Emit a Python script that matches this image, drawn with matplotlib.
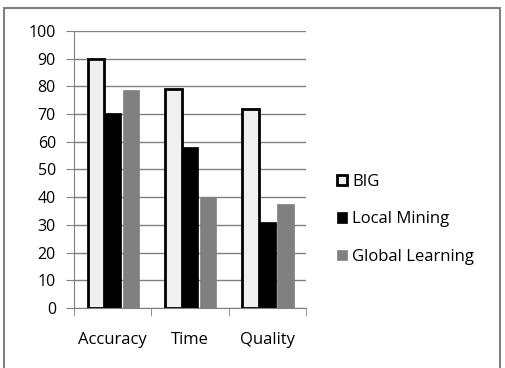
import matplotlib
matplotlib.use("Agg")
import matplotlib.pyplot as plt
import numpy as np
from matplotlib.patches import Rectangle

plt.rcParams['font.family'] = ['Open Sans', 'DejaVu Sans']

# 数据
categories = ['Accuracy', 'Time', 'Quality']
series_names = ['BIG', 'Local Mining', 'Global Learning']
big = [90, 79, 72]
local_mining = [70.5, 58, 31]
global_learning = [78.5, 40, 37.5]
y_ticks = [0, 10, 20, 30, 40, 50, 60, 70, 80, 90, 100]

fig = plt.figure(figsize=(5.05, 3.68), dpi=100)
ax = fig.add_axes([0.1465, 0.163, 0.4595, 0.753])

# 外框
fig.patches.append(Rectangle((0.007, -0.01), 0.984, 0.988, transform=fig.transFigure,
                             fill=False, edgecolor='#808080', linewidth=1.5))

x = np.arange(len(categories))
w = 0.215
ax.bar(x - w, big, width=w, color='#f0f0f0', edgecolor='black', linewidth=2,
       label=series_names[0], zorder=3)
ax.bar(x, local_mining, width=w, color='black', edgecolor='black', linewidth=0.5,
       label=series_names[1], zorder=2)
ax.bar(x + w + 0.02, global_learning, width=w, color='#808080', edgecolor='#808080',
       linewidth=0.5, label=series_names[2], zorder=2)

ax.set_xlim(-0.5, 2.5)
ax.set_ylim(0, 100)
ax.set_yticks(y_ticks)
ax.yaxis.grid(True, color='#808080', linewidth=1)
ax.set_axisbelow(True)

for s in ['top', 'right']:
    ax.spines[s].set_visible(False)
ax.spines['left'].set_color('#808080')
ax.spines['bottom'].set_color('#808080')

ax.set_xticks(x)
ax.set_xticklabels(categories, fontsize=12)
ax.tick_params(axis='x', length=0, pad=17)
ax.set_xticks([-0.5, 0.5, 1.5, 2.5], minor=True)
ax.tick_params(axis='x', which='minor', length=6, color='#808080', direction='out')
ax.tick_params(axis='y', length=6, color='#808080', labelsize=11.5, pad=7)

leg = ax.legend(loc='center left', bbox_to_anchor=(1.105, 0.32), frameon=False,
                fontsize=12, handlelength=0.6, handleheight=0.6, handletextpad=0.3,
                labelspacing=1.3, borderaxespad=0)

fig.savefig('out.png', dpi=100)
